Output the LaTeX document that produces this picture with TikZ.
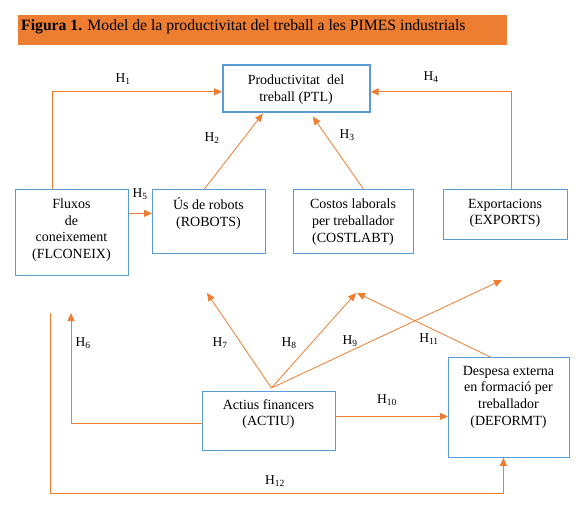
\documentclass[tikz,border=0pt]{standalone}
\usepackage{fontspec}
\setmainfont{Liberation Serif}
\usetikzlibrary{arrows.meta,calc}
\definecolor{org}{HTML}{ED7D31}
\definecolor{blu}{HTML}{5B9BD5}
\begin{document}
\begin{tikzpicture}[x=1pt,y=-1pt,
 box/.style={draw=blu, line width=0.8pt, inner sep=0pt, anchor=north west},
 txt/.style={align=center, font=\fontsize{14}{16.7}\selectfont, inner sep=0pt},
 hl/.style={font=\fontsize{13.5}{15}\selectfont, inner sep=0pt},
 conn/.style={draw=org, line width=0.8pt, -{Triangle[length=8pt,width=7pt]}},
]
\useasboundingbox (0,0) rectangle (585,518);
\node[fill=org, minimum width=489, minimum height=30, anchor=north west, inner sep=0pt] (title) at (18,15) {};
\node[anchor=west, inner sep=0pt, font=\fontsize{15.7}{18}\selectfont] (titletext) at (21,27) {\textbf{Figura 1.} Model de la productivitat del treball a les PIMES industrials};

% boxes
\node[box, line width=1.6pt, minimum width=147, minimum height=47] (ptl) at (222,64) {};
\node[box, minimum width=113, minimum height=86] (flux) at (15,189) {};
\node[box, minimum width=113, minimum height=64] (robots) at (152,189) {};
\node[box, minimum width=120, minimum height=64] (cost) at (293,189) {};
\node[box, minimum width=124, minimum height=50] (exports) at (443,189) {};
\node[box, minimum width=133, minimum height=59] (actiu) at (202,391) {};
\node[box, minimum width=121, minimum height=100] (deform) at (448,357) {};

% texts
\node[txt] (ptlt) at (296,89.5) {Productivitat\hspace{0.5em}del\\treball (PTL)};
\node[txt] (fluxt) at (71.5,230) {Fluxos\\de\\coneixement\\(FLCONEIX)};
\node[txt] (robotst) at (208.5,213.5) {Ús de robots\\(ROBOTS)};
\node[txt] (costt) at (353,222) {Costos laborals\\per treballador\\(COSTLABT)};
\node[txt] (exportst) at (505,213.5) {Exportacions\\(EXPORTS)};
\node[txt] (actiut) at (268.5,414) {Actius financers\\(ACTIU)};
\node[txt] (deformt) at (508.5,397) {Despesa externa\\en formació per\\treballador\\(DEFORMT)};

% free coordinates
\coordinate (ac) at ($(actiu.north)+(2.5,-3)$);
\coordinate (h6end) at (71,313);
\coordinate (h12start) at (50,313);
\coordinate (h7end) at (207,293);
\coordinate (h8end) at (356,293);
\coordinate (h9end) at (502,280);
\coordinate (h11end) at (357,293);

% connectors
\draw[conn] ($(flux.north west)+(37,0)$) |- ($(ptl.west)+(0,3.5)$);
\draw[conn] ($(robots.north)+(-4.5,0)$) -- ($(ptl.south)+(-33.5,1)$);
\draw[conn] ($(cost.north)+(10,0)$) -- ($(ptl.south)+(16.5,4)$);
\draw[conn] ($(exports.north)+(6,0)$) |- ($(ptl.east)+(0,3.5)$);
\draw[conn] ($(flux.east)+(0,-19)$) -- ($(robots.west)+(0,-8)$);
\draw[conn] ($(actiu.west)+(0,2.5)$) -| (h6end);
\draw[conn] (h12start) |- ($(deform.south)+(-5.5,36)$) -- ($(deform.south)+(-5.5,0)$);
\draw[conn] (ac) -- (h7end);
\draw[conn] (ac) -- (h8end);
\draw[conn] (ac) -- (h9end);
\draw[conn] ($(actiu.east)+(0,-4.5)$) -- ($(deform.west)+(0,9)$);
\draw[conn] ($(deform.north)+(-18.5,0)$) -- (h11end);

% labels
\node[hl] (l1) at (123,79) {H\textsubscript{1}};
\node[hl] (l2) at (212,138) {H\textsubscript{2}};
\node[hl] (l3) at (347,135) {H\textsubscript{3}};
\node[hl] (l4) at (431,77) {H\textsubscript{4}};
\node[hl] (l5) at (140,194) {H\textsubscript{5}};
\node[hl] (l6) at (83,343) {H\textsubscript{6}};
\node[hl] (l7) at (220,343) {H\textsubscript{7}};
\node[hl] (l8) at (289,343) {H\textsubscript{8}};
\node[hl] (l9) at (350,341) {H\textsubscript{9}};
\node[hl] (l10) at (387,400) {H\textsubscript{10}};
\node[hl] (l11) at (429,339) {H\textsubscript{11}};
\node[hl] (l12) at (275,481) {H\textsubscript{12}};
\end{tikzpicture}
\end{document}
